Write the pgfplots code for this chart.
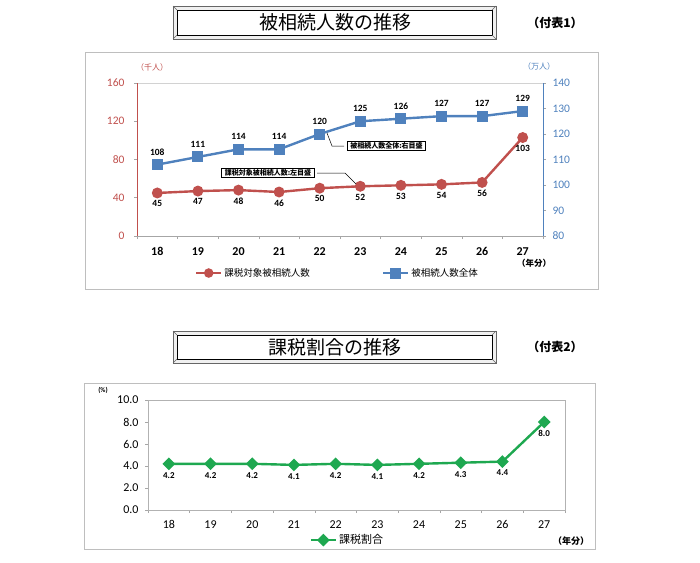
\documentclass[border=0pt]{standalone}
\usepackage{pgfplots}
\pgfplotsset{compat=1.18}
\usepackage{fontspec}
\setmainfont{Carlito}
\newfontfamily\jp{Noto Sans CJK JP}

\definecolor{cRed}{RGB}{192,80,77}
\definecolor{cBlue}{RGB}{79,129,189}
\definecolor{cGreen}{RGB}{30,168,80}
\definecolor{frameGray}{RGB}{190,190,190}

\pgfplotsset{
  base/.style={
    scale only axis, clip=false,
    xmin=17.5, xmax=27.5,
    /pgf/number format/assume math mode=true,
    tick align=outside, major tick length=3pt,
    tick style={gray!70, line width=0.6pt},
    legend image code/.code={
      \draw[mark repeat=2,mark phase=2,##1] plot coordinates {(0pt,0pt) (12.5pt,0pt) (25pt,0pt)};},
  },
}

\begin{document}
\begin{tikzpicture}
\path[use as bounding box] (0pt,0pt) rectangle (700pt,-562pt);

% ---------- title boxes ----------
\foreach \yt/\yb/\txt/\tab in {6/39/被相続人数の推移/（付表1）, 331/363/課税割合の推移/（付表2）}{
  \fill[gray!12] (173pt,-\yt pt) rectangle (496pt,-\yb pt);
  \draw[black!60, line width=0.6pt] (173pt,-\yt pt) rectangle (496pt,-\yb pt);
  \draw[black, line width=0.9pt, fill=white] (177pt,-\yt pt-4pt) rectangle (492pt,-\yb pt+4pt);
  \draw[black!60, line width=0.4pt] (173pt,-\yt pt) -- (177pt,-\yt pt-4pt)
       (496pt,-\yt pt) -- (492pt,-\yt pt-4pt)
       (173pt,-\yb pt) -- (177pt,-\yb pt+4pt)
       (496pt,-\yb pt) -- (492pt,-\yb pt+4pt);
  \node[font=\jp\fontsize{19}{22}\selectfont] at (335pt,-\yt pt/2-\yb pt/2) {\txt};
  \node[font=\jp\bfseries\fontsize{12}{14}\selectfont] at (555pt,-\yt pt/2-\yb pt/2) {\tab};
}

% ---------- outer frames ----------
\draw[frameGray, line width=1pt] (85pt,-52pt) rectangle (598pt,-289pt);
\draw[frameGray, line width=1pt] (84pt,-383pt) rectangle (595pt,-549pt);

% ---------- chart 1 : left scale ----------
\draw[gray!35, line width=0.8pt] (137pt,-83pt) -- (543pt,-83pt);
\begin{axis}[base,
  at={(137pt,-236pt)}, anchor=south west, width=406pt, height=153pt,
  ymin=0, ymax=160, ytick={0,40,...,160},
  axis x line*=bottom, axis y line*=left,
  x axis line style={gray!70, line width=0.8pt},
  y axis line style={cRed, line width=0.8pt},
  xtick={17.5,18.5,...,27.5}, xticklabels={},
  extra x ticks={18,19,...,27},
  extra x tick labels={18,19,20,21,22,23,24,25,26,27},
  extra x tick style={major tick length=0pt},
  x tick label style={font=\bfseries\fontsize{12}{14}\selectfont, yshift=-8pt},
  y tick label style={font=\fontsize{11.5}{13}\selectfont, text=cRed, xshift=-6pt},
]
\addplot[cRed, line width=2.4pt, mark=*, mark size=4.2pt,
  nodes near coords,
  every node near coord/.append style={font=\bfseries\fontsize{9.5}{11}\selectfont, text=black, anchor=north, yshift=-3pt}]
  coordinates {(18,45) (19,47) (20,48) (21,46) (22,50) (23,52) (24,53) (25,54) (26,56) (27,103)};
\end{axis}

% ---------- chart 1 : right scale ----------
\begin{axis}[base,
  at={(137pt,-236pt)}, anchor=south west, width=406pt, height=153pt,
  ymin=80, ymax=140, ytick={80,90,...,140},
  axis x line=none, axis y line*=right,
  y axis line style={cBlue, line width=0.8pt},
  y tick label style={font=\fontsize{11.5}{13}\selectfont, text=cBlue, xshift=3pt},
  legend columns=2,
  legend style={draw=none, fill=none, at={(0.135,-0.242)}, anchor=west,
    font=\jp\fontsize{9.5}{11}\selectfont,
    /tikz/every even column/.append style={column sep=70pt}},
]
\addlegendimage{cRed, line width=2.4pt, mark=*, mark size=3.5pt}
\addlegendentry{課税対象被相続人数}
\addplot[cBlue, line width=2.4pt, mark=square*, mark size=4.3pt,
  nodes near coords,
  every node near coord/.append style={font=\bfseries\fontsize{9.5}{11}\selectfont, text=black, anchor=south, yshift=5pt}]
  coordinates {(18,108) (19,111) (20,114) (21,114) (22,120) (23,125) (24,126) (25,127) (26,127) (27,129)};
\addlegendentry{被相続人数全体}
\end{axis}

% chart 1 annotations
\node[text=cRed, font=\jp\fontsize{8}{9}\selectfont] at (152pt,-67pt) {（千人）};
\node[text=cBlue, font=\jp\fontsize{8}{9}\selectfont] at (539pt,-66pt) {（万人）};
\node[font=\jp\bfseries\fontsize{8.5}{10}\selectfont] at (534pt,-263pt) {（年分）};

\draw[black, line width=0.5pt] (327pt,-133pt) -- (332pt,-146pt) -- (344pt,-146pt);
\node[draw=black, line width=0.9pt, fill=white, inner xsep=3pt, inner ysep=1.5pt,
  font=\jp\bfseries\fontsize{7}{8}\selectfont] at (386.5pt,-146pt) {被相続人数全体:右目盛};
\draw[black, line width=0.5pt] (317pt,-173pt) -- (345pt,-173pt) -- (356pt,-184pt);
\node[draw=black, line width=0.9pt, fill=white, inner xsep=3pt, inner ysep=1.5pt,
  font=\jp\bfseries\fontsize{7}{8}\selectfont] at (268pt,-173pt) {課税対象被相続人数:左目盛};

% ---------- chart 2 ----------
\begin{axis}[base,
  at={(148pt,-510pt)}, anchor=south west, width=417pt, height=110pt,
  ymin=0, ymax=10, ytick={0,2,...,10},
  axis line style={gray!60, line width=0.8pt},
  xtick pos=bottom, ytick pos=left,
  xtick={17.5,18.5,...,27.5}, xticklabels={},
  extra x ticks={18,19,...,27},
  extra x tick labels={18,19,20,21,22,23,24,25,26,27},
  extra x tick style={major tick length=0pt},
  x tick label style={font=\fontsize{12}{14}\selectfont, yshift=-7pt},
  y tick label style={font=\fontsize{12}{14}\selectfont, xshift=-3pt,
    /pgf/number format/.cd, fixed, fixed zerofill, precision=1},
  legend style={draw=none, fill=none, at={(0.38,-0.273)}, anchor=west,
    font=\jp\fontsize{11}{13}\selectfont},
]
\addplot[cGreen, line width=2.4pt, mark=square*, mark size=3.3pt, mark options={rotate=45},
  nodes near coords={\pgfmathprintnumber[fixed,fixed zerofill,precision=1]{\pgfplotspointmeta}},
  every node near coord/.append style={font=\bfseries\fontsize{9}{10}\selectfont, text=black, anchor=north, yshift=-4pt}]
  coordinates {(18,4.2) (19,4.2) (20,4.2) (21,4.1) (22,4.2) (23,4.1) (24,4.2) (25,4.3) (26,4.4) (27,8.0)};
\addlegendentry{課税割合}
\end{axis}

\node[font=\fontsize{7}{8}\selectfont\bfseries] at (103pt,-390pt) {(\%)};
\node[font=\jp\bfseries\fontsize{9}{10}\selectfont] at (571pt,-541pt) {（年分）};

\end{tikzpicture}
\end{document}
